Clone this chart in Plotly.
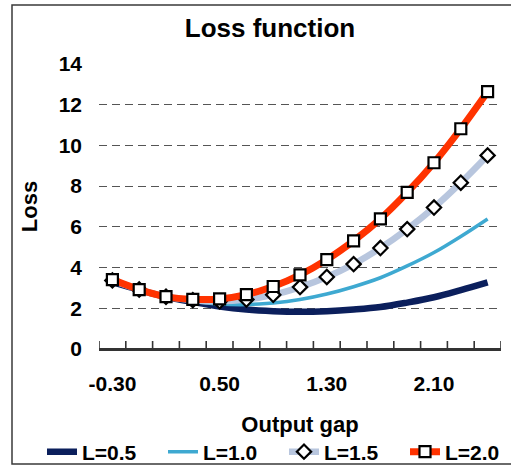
import plotly.graph_objects as go

categories = ["-0.30", "-0.10", "0.10", "0.30", "0.50", "0.70", "0.90", "1.10",
              "1.30", "1.50", "1.70", "1.90", "2.10", "2.30", "2.50"]
loss_l05 = [3.28, 2.90, 2.56, 2.31, 2.09, 1.94, 1.86, 1.83, 1.86, 1.94, 2.06, 2.28, 2.54, 2.89, 3.27]
loss_l10 = [3.32, 2.91, 2.56, 2.35, 2.21, 2.18, 2.26, 2.43, 2.70, 3.06, 3.50, 4.08, 4.74, 5.53, 6.39]
loss_l15 = [3.37, 2.92, 2.57, 2.40, 2.34, 2.43, 2.66, 3.04, 3.54, 4.17, 4.96, 5.89, 6.95, 8.17, 9.51]
loss_l20 = [3.41, 2.92, 2.57, 2.44, 2.46, 2.67, 3.07, 3.64, 4.39, 5.31, 6.39, 7.69, 9.15, 10.82, 12.64]
series_names = ["L=0.5", "L=1.0", "L=1.5", "L=2.0"]
y_ticks = [0, 2, 4, 6, 8, 10, 12, 14]

FONT = "Liberation Sans, Arial, sans-serif"
W, H = 511, 466
ML, MR, MT, MB = 99, 10, 64, 117
PW, PH = W - ML - MR, H - MT - MB
Y_MAX = 14


def px_x(px):
    return (px - ML) / PW


def px_y(py):
    return (H - MB - py) / PH


fig = go.Figure()
fig.add_trace(go.Scatter(x=categories, y=loss_l05, name=series_names[0], mode="lines",
                         line=dict(color="#0b1f5c", width=6.5, shape="spline")))
fig.add_trace(go.Scatter(x=categories, y=loss_l10, name=series_names[1], mode="lines",
                         line=dict(color="#3ea9d1", width=3.5, shape="spline")))
fig.add_trace(go.Scatter(x=categories, y=loss_l15, name=series_names[2], mode="lines+markers",
                         line=dict(color="#b8c6de", width=6.5, shape="spline"),
                         marker=dict(symbol="diamond", size=11, color="white",
                                     line=dict(color="black", width=2.2))))
fig.add_trace(go.Scatter(x=categories, y=loss_l20, name=series_names[3], mode="lines+markers",
                         line=dict(color="#ff3300", width=7, shape="spline"),
                         marker=dict(symbol="square", size=11, color="white",
                                     line=dict(color="black", width=2.2))))

n_cat = len(categories)
# only every 4th category is labelled; the rest get a blank alias
hidden_labels = {c: " " for i, c in enumerate(categories) if i % 4 != 0}

# Excel-style axis baseline and tick marks on the category boundaries
tick_len = 8 / PH * Y_MAX
axis_shapes = [dict(type="line", xref="paper", yref="paper", x0=0, x1=1, y0=0, y1=0,
                    line=dict(color="#333", width=1.8), layer="above")]
axis_shapes += [dict(type="line", xref="x", yref="y", x0=b - 0.5, x1=b - 0.5,
                     y0=0, y1=tick_len, line=dict(color="#333", width=1.6), layer="above")
                for b in range(n_cat + 1)]

frame = dict(type="rect", xref="paper", yref="paper",
             x0=px_x(12), x1=px_x(520), y0=px_y(464), y1=px_y(5),
             line=dict(color="#3a3a3a", width=1.5), fillcolor="rgba(0,0,0,0)",
             layer="below")

fig.update_layout(
    width=W, height=H,
    margin=dict(l=ML, r=MR, t=MT, b=MB, autoexpand=False),
    paper_bgcolor="white", plot_bgcolor="white",
    font=dict(family=FONT, color="black"),
    title=dict(text="Loss function", x=px_x(270), xref="paper", xanchor="center",
               y=1 - 28 / H, yanchor="middle",
               font=dict(family=FONT, size=26, weight="bold", color="black")),
    xaxis=dict(type="category", categoryorder="array", categoryarray=categories,
               range=[-0.5, n_cat - 0.5],
               tickmode="linear", tick0=0, dtick=1, labelalias=hidden_labels, tickangle=0,
               ticks="", showline=True, linecolor="#333", linewidth=1.5,
               showgrid=False, zeroline=False, ticklabelstandoff=15, automargin=False,
               tickfont=dict(family=FONT, size=21, weight="bold", color="black"),
               title=dict(text="Output gap", standoff=23,
                          font=dict(family=FONT, size=22, weight="bold", color="black"))),
    yaxis=dict(range=[0, Y_MAX], tickmode="array", tickvals=y_ticks, automargin=False,
               showgrid=True, gridcolor="#555", gridwidth=1, griddash="8px,5px",
               zeroline=False, showline=False, ticks="", ticklabelstandoff=16,
               tickfont=dict(family=FONT, size=21, weight="bold", color="black"),
               title=dict(text="Loss", standoff=14,
                          font=dict(family=FONT, size=22, weight="bold", color="black"))),
    legend=dict(orientation="h", xref="paper", yref="paper",
                x=px_x(42), xanchor="left", y=px_y(452), yanchor="middle",
                entrywidth=76, entrywidthmode="pixels", itemwidth=30,
                font=dict(family=FONT, size=21, weight="bold", color="black"),
                bgcolor="rgba(0,0,0,0)", borderwidth=0, tracegroupgap=0),
    shapes=[frame] + axis_shapes,
)

fig.write_html("out.html", config={"displayModeBar": False},
               post_script="document.body.style.margin='0';document.body.style.padding='0';")
